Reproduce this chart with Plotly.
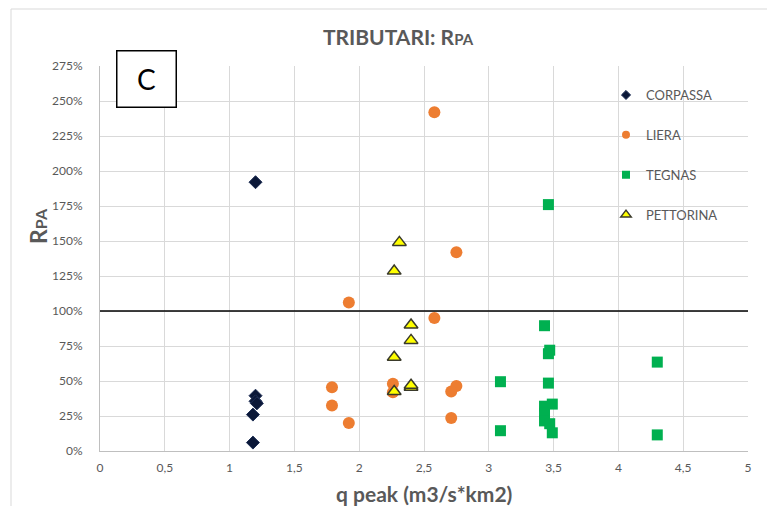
import plotly.graph_objects as go

# ---- data ----
corpassa_x = [1.20, 1.20, 1.20, 1.21, 1.18, 1.18]
corpassa_y = [192, 39.5, 35.5, 34, 26, 6]

liera_x = [2.58, 2.75, 1.92, 2.58, 1.79, 1.79, 1.92, 2.26, 2.26, 2.75, 2.71, 2.71]
liera_y = [242, 142, 106, 95, 45.5, 32.5, 20, 48, 42, 46.5, 42.5, 23.5]

tegnas_x = [3.46, 3.43, 3.47, 3.46, 4.30, 3.09, 3.46, 3.49, 3.43, 3.43, 3.43, 3.47, 3.49, 3.09, 4.30]
tegnas_y = [176, 89.5, 72, 69.5, 63.5, 49.5, 48.5, 33.5, 32, 27, 21.5, 19.5, 13, 14.5, 11.5]

pettorina_x = [2.31, 2.27, 2.40, 2.40, 2.27, 2.40, 2.40, 2.27]
pettorina_y = [149, 128.5, 90, 79, 67, 45.5, 47, 42.5]

ref_x = [0, 5]
ref_y = [100, 100]

x_ticks = [0, 0.5, 1, 1.5, 2, 2.5, 3, 3.5, 4, 4.5, 5]
y_ticks = [0, 25, 50, 75, 100, 125, 150, 175, 200, 225, 250, 275]
y_ticktext = [f"{v}%" for v in y_ticks]

series_names = ["CORPASSA", "LIERA", "TEGNAS", "PETTORINA"]

GRAY = "#595959"
FONT = "Lato"

styles = {
    "CORPASSA": dict(symbol="diamond", color="#0b1838", line=dict(color="#1f2f55", width=1)),
    "LIERA": dict(symbol="circle", color="#ED7D31", line=dict(width=0)),
    "TEGNAS": dict(symbol="square", color="#00B050", line=dict(width=0)),
    "PETTORINA": dict(symbol="triangle-up", color="#FFFF00", line=dict(color="#3a3a2a", width=1.5)),
}
plot_sizes = {"CORPASSA": 10, "LIERA": 12, "TEGNAS": 11, "PETTORINA": 12}
legend_sizes = {"CORPASSA": 7, "LIERA": 8, "TEGNAS": 8, "PETTORINA": 9}
data = {
    "CORPASSA": (corpassa_x, corpassa_y),
    "LIERA": (liera_x, liera_y),
    "TEGNAS": (tegnas_x, tegnas_y),
    "PETTORINA": (pettorina_x, pettorina_y),
}

fig = go.Figure()

fig.add_trace(go.Scatter(x=ref_x, y=ref_y, mode="lines",
                         line=dict(color="black", width=1.5),
                         showlegend=False, hoverinfo="skip"))

for i, name in enumerate(series_names):
    xs, ys = data[name]
    st = styles[name]
    fig.add_trace(go.Scatter(x=xs, y=ys, mode="markers", name=name, showlegend=False,
                             marker=dict(symbol=st["symbol"], size=plot_sizes[name],
                                         color=st["color"], line=st["line"])))
    # legend-only entry with the small legend marker
    fig.add_trace(go.Scatter(x=[None], y=[None], mode="markers", name=name,
                             legendgroup=f"g{i}", hoverinfo="skip",
                             marker=dict(symbol=st["symbol"], size=legend_sizes[name],
                                         color=st["color"], line=st["line"])))

# The page puts the plot 8px in from the top-left, so the figure is sized to fit
OFF = 8
W, H = 775 - OFF, 506 - OFF
PX0, PX1, PY0, PY1 = 100, 748, 66, 451   # plot area in page pixels
L = PX0 - OFF
T = PY0 - OFF
pw, ph = PX1 - PX0, PY1 - PY0
R = W - L - pw
B = H - T - ph


def px(xp):
    return (xp - PX0) / pw


def py(yp):
    return (PY1 - yp) / ph


fig.update_layout(
    width=W, height=H,
    margin=dict(l=L, r=R, t=T, b=B),
    paper_bgcolor="white", plot_bgcolor="white",
    separators=",.",
    font=dict(family=FONT, color=GRAY, size=12),
    title=dict(text="<b>TRIBUTARI: R<span style='font-size:15px'>PA</span></b>",
               x=(398 - OFF) / W, xref="container", xanchor="center",
               y=1 - (38 - OFF) / H, yref="container", yanchor="middle",
               font=dict(family=FONT, size=21, color=GRAY)),
    xaxis=dict(range=[0, 5], tickvals=x_ticks, showgrid=True, gridcolor="#d9d9d9",
               gridwidth=1, zeroline=False, showline=True, linecolor="#bfbfbf",
               ticks="", ticklabelstandoff=6, tickfont=dict(size=12, color=GRAY)),
    yaxis=dict(range=[0, 275], tickvals=y_ticks, ticktext=y_ticktext, showgrid=True,
               gridcolor="#d9d9d9", gridwidth=1, zeroline=False, showline=True,
               linecolor="#bfbfbf", ticks="", ticklabelstandoff=14,
               tickfont=dict(size=12, color=GRAY)),
    legend=dict(x=px(606), y=py(80), xanchor="left", yanchor="top",
                bgcolor="rgba(0,0,0,0)", tracegroupgap=20,
                font=dict(family=FONT, size=13, color=GRAY)),
    shapes=[
        dict(type="rect", xref="paper", yref="paper",
             x0=px(11), x1=1.2, y0=-0.4, y1=py(9),
             line=dict(color="#d9d9d9", width=1), fillcolor="rgba(0,0,0,0)", layer="below"),
    ],
    annotations=[
        dict(text="C", xref="paper", yref="paper",
             x=px(146), y=py(79.5), xanchor="center", yanchor="middle",
             showarrow=False, width=56, height=53, bordercolor="black", borderwidth=1.5,
             bgcolor="white", font=dict(family=FONT, size=28, color="black")),
        dict(text="<b>q peak (m3/s*km2)</b>", xref="paper", yref="paper",
             x=px(424), y=py(493), xanchor="center", yanchor="middle", showarrow=False,
             font=dict(family=FONT, size=21, color=GRAY)),
        dict(text="<b>R<span style='font-size:16px'>PA</span></b>", xref="paper", yref="paper",
             x=px(38), y=py(226), xanchor="center", yanchor="middle", showarrow=False,
             textangle=-90, font=dict(family=FONT, size=23, color=GRAY)),
    ],
)

fig.write_html("out.html")
